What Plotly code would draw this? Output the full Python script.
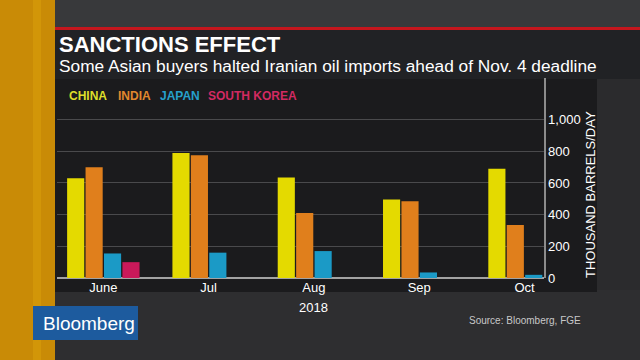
import plotly.graph_objects as go

months = ["June", "Jul", "Aug", "Sep", "Oct"]
series_names = ["CHINA", "INDIA", "JAPAN", "SOUTH KOREA"]
china = [630, 790, 635, 495, 690]
india = [700, 775, 410, 485, 335]
japan = [155, 160, 170, 35, 20]
south_korea = [100, 0, 0, 0, 0]
y_ticks = [0, 200, 400, 600, 800, 1000]
y_tick_labels = ["0", "200", "400", "600", "800", "1,000"]
year_label = "2018"

series_values = [china, india, japan, south_korea]
bar_colors = ["#e4da00", "#e07f1c", "#1b9ac6", "#c9195a"]
legend_colors = ["#dede2a", "#e0882e", "#26a0cc", "#d22a62"]

W, H = 640, 360
L, R, T, B = 57, 544, 78, 278


def px(x):
    return (x - L) / (R - L)


def py(y):
    return (B - y) / (B - T)


def rect(x0, y0, x1, y1, color):
    return dict(type="rect", xref="paper", yref="paper", layer="below",
                x0=px(x0), x1=px(x1), y0=py(y1), y1=py(y0),
                fillcolor=color, line=dict(width=0))


fig = go.Figure()
for name, vals, col in zip(series_names, series_values, bar_colors):
    fig.add_trace(go.Bar(x=months, y=vals, name=name,
                         marker=dict(color=col, line=dict(width=0))))

shapes = [
    rect(0, 0, 640, 28, "#38393b"),
    rect(0, 28, 640, 360, "#2b2b2d"),
    rect(55, 290, 640, 360, "#2e2e30"),
    rect(55, 30, 640, 79, "#212225"),
    rect(55, 79, 597, 292, "#1b1b1d"),
    rect(0, 0, 55, 360, "#c98b06"),
    rect(33, 0, 41, 360, "#d29608"),
    rect(55, 27, 640, 30, "#c5161d"),
    rect(33, 306, 138, 340, "#1d5b9e"),
]

font_family = "Liberation Sans, Arial, sans-serif"
annotations = [
    dict(text="<b>SANCTIONS EFFECT</b>", x=px(57), y=py(45), xref="paper", yref="paper",
         xanchor="left", yanchor="middle", showarrow=False,
         font=dict(family=font_family, size=22, color="white")),
    dict(text="Some Asian buyers halted Iranian oil imports ahead of Nov. 4 deadline",
         x=px(57), y=py(66), xref="paper", yref="paper",
         xanchor="left", yanchor="middle", showarrow=False,
         font=dict(family=font_family, size=17.3, color="white")),
    dict(text="THOUSAND BARRELS/DAY", x=px(590), y=py(195), xref="paper", yref="paper",
         xanchor="center", yanchor="middle", textangle=-90, showarrow=False,
         font=dict(family=font_family, size=13, color="white")),
    dict(text=year_label, x=months[2], y=py(307), xref="x", yref="paper",
         xanchor="center", yanchor="middle", showarrow=False,
         font=dict(family=font_family, size=13, color="white")),
    dict(text="Source: Bloomberg, FGE", x=px(467), y=py(320), xref="paper", yref="paper",
         xanchor="left", yanchor="middle", showarrow=False,
         font=dict(family=font_family, size=10, color="#c8c8c8")),
    dict(text="Bloomberg", x=px(41), y=py(323), xref="paper", yref="paper",
         xanchor="left", yanchor="middle", showarrow=False,
         font=dict(family=font_family, size=19, color="white")),
]
legend_x = [67, 116, 158, 206]
for name, col, lx in zip(series_names, legend_colors, legend_x):
    annotations.append(dict(text="<b>" + name + "</b>", x=px(lx), y=py(96),
                            xref="paper", yref="paper", xanchor="left", yanchor="middle",
                            showarrow=False,
                            font=dict(family=font_family, size=12, color=col)))

fig.update_layout(
    width=W, height=H,
    margin=dict(l=L, r=W - R, t=T, b=H - B, pad=0),
    paper_bgcolor="#2b2b2d",
    plot_bgcolor="rgba(0,0,0,0)",
    barmode="group", bargap=0.30, bargroupgap=0.07,
    showlegend=False,
    shapes=shapes,
    annotations=annotations,
    font=dict(family=font_family, color="white", size=13),
    xaxis=dict(range=[-0.44, 4.185], showgrid=False, showline=False, ticks="",
               tickfont=dict(size=13, color="white"), fixedrange=True, automargin=False),
    yaxis=dict(range=[0, 1263], side="right", tickvals=y_ticks, ticktext=y_tick_labels,
               showgrid=True, gridcolor="#4a4a4c", gridwidth=1,
               zeroline=True, zerolinecolor="#a3a3a3", zerolinewidth=2,
               showline=True, linecolor="#8c8c8c", linewidth=1.5, ticks="",
               tickfont=dict(size=13, color="white"), automargin=False, fixedrange=True),
)

fig.write_html("out.html",
               config={"displayModeBar": False, "staticPlot": True},
               post_script="document.body.style.margin='0';document.body.style.overflow='hidden';")
